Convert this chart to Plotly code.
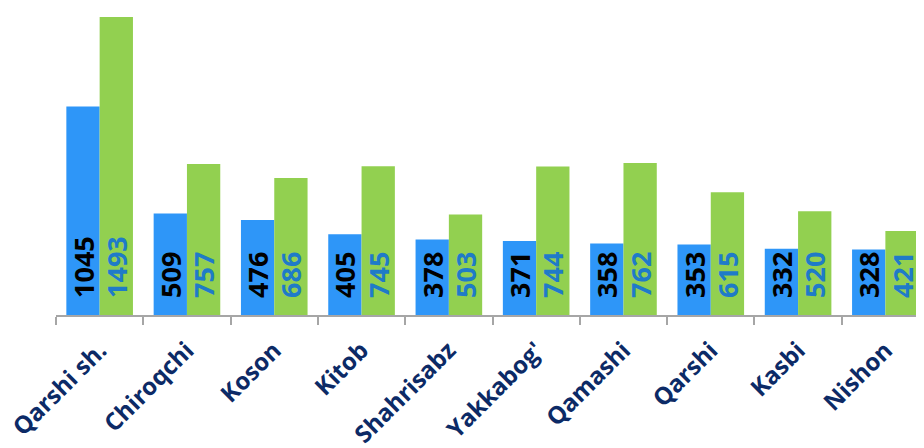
import plotly.graph_objects as go

categories = ["Qarshi sh.", "Chiroqchi", "Koson", "Kitob", "Shahrisabz",
              "Yakkabog'", "Qamashi", "Qarshi", "Kasbi", "Nishon"]
series_a = [1045, 509, 476, 405, 378, 371, 358, 353, 332, 328]
series_b = [1493, 757, 686, 745, 503, 744, 762, 615, 520, 421]

PAD = "\u00a0\u00a0"

fig = go.Figure()
fig.add_trace(go.Bar(
    x=categories, y=series_a, marker=dict(color="#2E96F8", line=dict(width=0)),
    text=[PAD + str(v) for v in series_a], textposition="inside", insidetextanchor="start",
    textangle=-90, constraintext="none",
    textfont=dict(family="Open Sans", size=27, color="#000000", weight="bold"),
    showlegend=False,
))
fig.add_trace(go.Bar(
    x=categories, y=series_b, marker=dict(color="#92D050", line=dict(width=0)),
    text=[PAD + str(v) for v in series_b], textposition="inside", insidetextanchor="start",
    textangle=-90, constraintext="none",
    textfont=dict(family="Open Sans", size=27, color="#1F7BC8", weight="bold"),
    showlegend=False,
))

fig.update_layout(
    width=924, height=448,
    margin=dict(l=48, r=0, t=2, b=141),
    barmode="group", bargap=0.237, bargroupgap=0,
    plot_bgcolor="white", paper_bgcolor="white",
    xaxis=dict(
        type="category", range=[-0.5, 9.534], tickson="boundaries",
        ticks="outside", ticklen=8, tickcolor="#A6A6A6", tickwidth=1.5,
        showline=True, linecolor="#A6A6A6", linewidth=1.5,
        tickangle=-45, automargin=False, ticklabelstandoff=10,
        tickfont=dict(family="Open Sans", size=24, color="#0C2A66", weight="bold"),
        showgrid=False, zeroline=False,
    ),
    yaxis=dict(range=[0, 1528], visible=False, showgrid=False, zeroline=False),
)

fig.write_html("out.html")
